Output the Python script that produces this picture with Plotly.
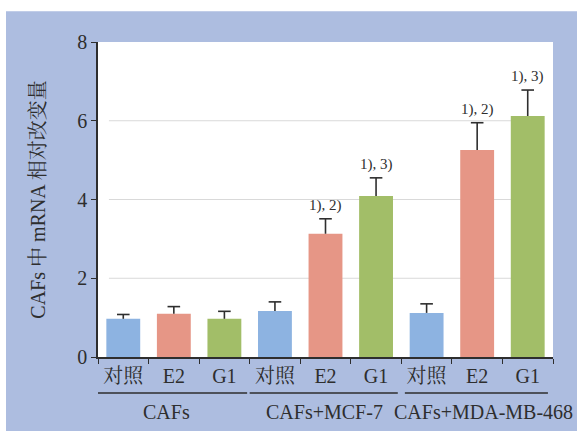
import plotly.graph_objects as go

# Data
groups = ["CAFs", "CAFs+MCF-7", "CAFs+MDA-MB-468"]
treatments = ["对照", "E2", "G1"]
means = [0.97, 1.10, 0.97,
         1.17, 3.13, 4.09,
         1.12, 5.26, 6.12]
errors = [0.11, 0.18, 0.19,
          0.23, 0.38, 0.46,
          0.23, 0.69, 0.66]
sig_labels = ["", "", "",
              "", "1), 2)", "1), 3)",
              "", "1), 2)", "1), 3)"]
y_ticks = [0, 2, 4, 6, 8]

# Style
treat_colors = {"对照": "#8DB3E1", "E2": "#E69686", "G1": "#A2BE68"}
panel = "#ADBDE0"
ink = "#2E2E2E"
serif = "Liberation Serif, 'Noto Serif CJK SC', 'Noto Sans CJK SC', serif"

cats, ticktext, colors = [], [], []
for g in groups:
    for t in treatments:
        cats.append(f"{g}/{t}")
        ticktext.append(t)
        colors.append(treat_colors[t])

tops = [m + e for m, e in zip(means, errors)]

fig = go.Figure()
# Bars with upward-only error whiskers (no caps here)
fig.add_bar(
    x=cats, y=means, width=0.67,
    marker=dict(color=colors, line=dict(width=0)),
    error_y=dict(type="data", symmetric=False, array=errors,
                 arrayminus=[0] * len(errors),
                 color=ink, thickness=1.6, width=0),
    showlegend=False, hoverinfo="skip",
)
# Caps on top of the whiskers
fig.add_scatter(
    x=cats, y=tops, mode="markers",
    marker=dict(symbol="line-ew", size=9, line=dict(color=ink, width=1.6)),
    showlegend=False, hoverinfo="skip",
)

# Significance marks above the error bars
for c, t, s in zip(cats, tops, sig_labels):
    if s:
        fig.add_annotation(x=c, y=t, text=s, showarrow=False,
                           yanchor="bottom", yshift=3,
                           font=dict(family=serif, size=15, color=ink))

# Light horizontal gridlines (inset from the axes)
for v in y_ticks[1:-1]:
    fig.add_shape(type="line", xref="paper", yref="y",
                  x0=0.024, x1=0.98, y0=v, y1=v,
                  line=dict(color="#D9D9D9", width=1), layer="below")

# Group underlines and labels
group_spans = [(-0.74, 2.45), (2.5, 5.43), (5.57, 8.4)]
group_centers = [0.85, 3.98, 7.13]
for g, (a, b), cx in zip(groups, group_spans, group_centers):
    fig.add_shape(type="line", xref="x", yref="paper",
                  x0=a, x1=b, y0=-0.114, y1=-0.114,
                  line=dict(color=ink, width=1.5))
    fig.add_annotation(x=cx, y=-0.176, xref="x", yref="paper", text=g,
                       showarrow=False, yanchor="middle",
                       font=dict(family=serif, size=20, color=ink))

# White page border strips around the coloured panel
fig.add_shape(type="rect", xref="paper", yref="paper",
              x0=-0.3, x1=1.2, y0=1.098, y1=1.2,
              fillcolor="white", line=dict(width=0), layer="below")
fig.add_shape(type="rect", xref="paper", yref="paper",
              x0=-0.3, x1=-0.2022, y0=-0.3, y1=1.2,
              fillcolor="white", line=dict(width=0), layer="below")

fig.update_layout(
    width=577, height=431,
    margin=dict(l=98, r=24, t=42, b=74),
    paper_bgcolor=panel, plot_bgcolor="white",
    bargap=0.33,
    font=dict(family=serif, color=ink),
    xaxis=dict(
        type="category", tickmode="array", tickvals=cats, ticktext=ticktext,
        tickson="boundaries", ticks="outside", ticklen=5, tickwidth=1.3,
        tickcolor=ink, showline=True, linecolor=ink, linewidth=1.6,
        showgrid=False, range=[-0.5, 8.5],
        tickfont=dict(family=serif, size=20, color=ink),
    ),
    yaxis=dict(
        range=[0, 8], tickvals=y_ticks, ticks="outside", ticklen=5,
        tickwidth=1.3, tickcolor=ink, showline=True, linecolor=ink,
        linewidth=1.6, showgrid=False, zeroline=False,
        tickfont=dict(family=serif, size=20, color=ink),
        title=dict(text="CAFs 中 mRNA 相对改变量", standoff=26,
                   font=dict(family=serif, size=20, color=ink)),
    ),
)

fig.write_html("out.html")
